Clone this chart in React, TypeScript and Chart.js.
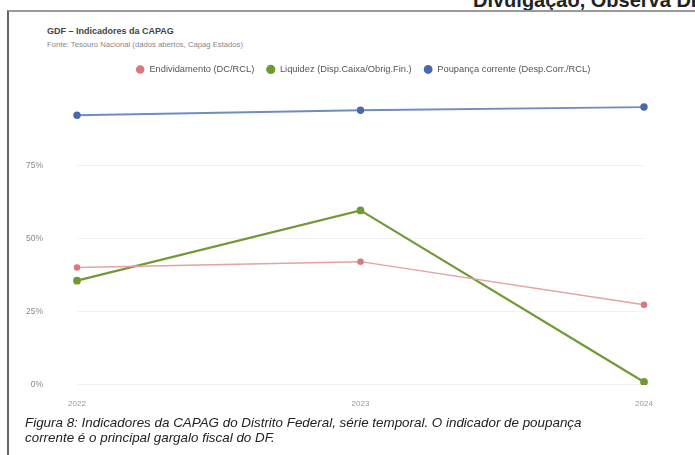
import React, { useEffect, useRef } from "react";
import { Chart, registerables } from "chart.js";

Chart.register(...registerables);

const years = ["2022", "2023", "2024"];
const endividamento = [40.1, 42.1, 27.4];
const liquidez = [35.6, 59.6, 1.0];
const poupanca = [92.1, 93.8, 94.9];
const yTicks = [0, 25, 50, 75];

const FONT = "'Liberation Sans', Arial, sans-serif";

const legendAdjust = {
  id: "legendAdjust",
  beforeInit(chart: any) {
    const legend = chart.legend;
    if (!legend) return;
    const orig = legend.fit;
    legend.fit = function () {
      orig.call(this);
      this.height += 6;
    };
  },
  afterLayout(chart: any) {
    const legend = chart.legend;
    if (!legend) return;
    legend.left += 37;
    legend.right += 37;
    legend.top -= 2;
    legend.bottom -= 2;
  },
};

export default function App() {
  const ref = useRef<HTMLCanvasElement | null>(null);

  useEffect(() => {
    if (!ref.current) return;
    const chart = new Chart(ref.current, {
      type: "line",
      data: {
        labels: years,
        datasets: [
          {
            label: "Endividamento (DC/RCL)",
            data: endividamento,
            borderColor: "#e3a3a3",
            backgroundColor: "#d77a7a",
            pointBackgroundColor: "#d77a7a",
            pointBorderColor: "#d77a7a",
            borderWidth: 1.5,
            pointRadius: 2.5,
            tension: 0,
          },
          {
            label: "Liquidez (Disp.Caixa/Obrig.Fin.)",
            data: liquidez,
            borderColor: "#6f9a35",
            backgroundColor: "#6f9a35",
            pointBackgroundColor: "#6f9a35",
            pointBorderColor: "#6f9a35",
            borderWidth: 2.2,
            pointRadius: 2.8,
            tension: 0,
          },
          {
            label: "Poupança corrente (Desp.Corr./RCL)",
            data: poupanca,
            borderColor: "#6f8cc4",
            backgroundColor: "#4a68ad",
            pointBackgroundColor: "#4a68ad",
            pointBorderColor: "#4a68ad",
            borderWidth: 1.8,
            pointRadius: 2.8,
            tension: 0,
          },
        ],
      },
      options: {
        responsive: false,
        animation: false,
        layout: { padding: { left: 0, right: 44, top: 0, bottom: 0 } },
        plugins: {
          legend: {
            display: true,
            position: "top",
            labels: {
              usePointStyle: true,
              pointStyle: "circle",
              boxWidth: 9,
              boxHeight: 5,
              padding: 12,
              color: "#555",
              font: { family: FONT, size: 9.3 },
            },
          },
          tooltip: { enabled: false },
        },
        scales: {
          x: {
            offset: false,
            grid: { display: false },
            border: { display: false },
            ticks: {
              color: "#999",
              font: { family: FONT, size: 8 },
              padding: 6,
              maxRotation: 0,
            },
            afterFit: (s: any) => {
              s.height = 26;
            },
          },
          y: {
            min: 0,
            max: 100,
            border: { display: false },
            grid: { color: "#f1f1f1", drawTicks: false },
            ticks: {
              color: "#888",
              font: { family: FONT, size: 8.5 },
              padding: 34,
              callback: (v: any) => v + "%",
            },
            afterBuildTicks: (s: any) => {
              s.ticks = yTicks.map((v) => ({ value: v }));
            },
            afterFit: (s: any) => {
              s.width = 69;
            },
          },
        },
      },
      plugins: [legendAdjust],
    });
    return () => chart.destroy();
  }, []);

  return (
    <div
      style={{
        position: "fixed",
        left: 0,
        top: 0,
        width: 695,
        height: 455,
        background: "#fff",
        overflow: "hidden",
        fontFamily: FONT,
      }}
    >
      <div
        style={{
          position: "absolute",
          left: 473,
          top: -10,
          fontSize: 20,
          lineHeight: "20px",
          fontWeight: "bold",
          color: "#222",
          whiteSpace: "nowrap",
        }}
      >
        Divulgação, Observa DF
      </div>
      <div
        style={{
          position: "absolute",
          left: 7,
          top: 10,
          width: 700,
          height: 460,
          borderTop: "2px solid #999",
          borderLeft: "2px solid #666",
          boxSizing: "border-box",
        }}
      />
      <div
        style={{
          position: "absolute",
          left: 47,
          top: 26,
          fontSize: 9,
          fontWeight: "bold",
          color: "#444",
          whiteSpace: "nowrap",
        }}
      >
        GDF – Indicadores da CAPAG
      </div>
      <div
        style={{
          position: "absolute",
          left: 47,
          top: 40,
          fontSize: 7.7,
          color: "#888",
          whiteSpace: "nowrap",
        }}
      >
        Fonte: Tesouro Nacional (dados abertos, Capag Estados)
      </div>
      <canvas
        ref={ref}
        width={680}
        height={371}
        style={{ position: "absolute", left: 8, top: 53, width: 680, height: 371 }}
      />
      <div
        style={{
          position: "absolute",
          left: 25,
          top: 415,
          fontSize: 13.4,
          lineHeight: "15px",
          fontStyle: "italic",
          color: "#222",
          whiteSpace: "nowrap",
        }}
      >
        Figura 8: Indicadores da CAPAG do Distrito Federal, série temporal. O indicador de poupança
        <br />
        corrente é o principal gargalo fiscal do DF.
      </div>
    </div>
  );
}
